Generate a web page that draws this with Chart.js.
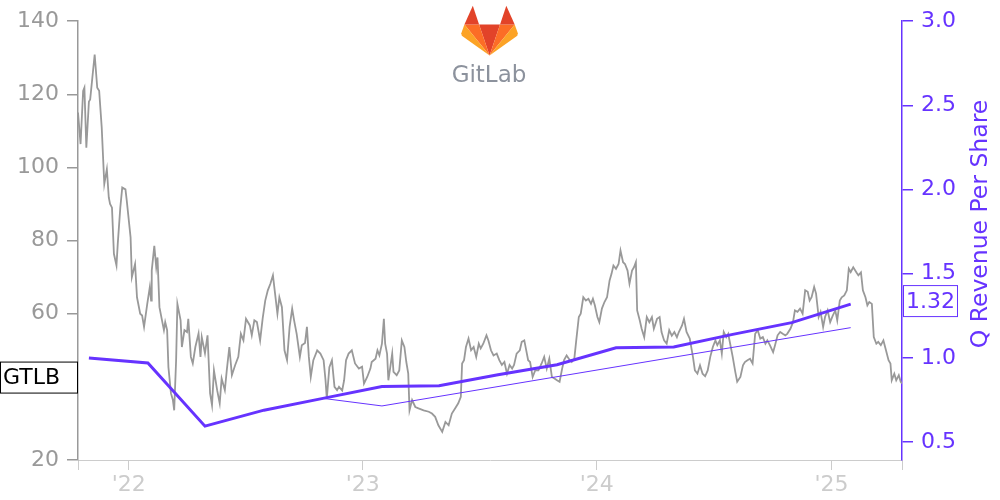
<!DOCTYPE html>
<html>
<head>
<meta charset="utf-8">
<script src="https://cdn.jsdelivr.net/npm/chart.js@4.4.0/dist/chart.umd.min.js"></script>
<style>
  html, body { margin: 0; padding: 0; background: #fff; }
  #chart { display: block; }
</style>
</head>
<body>
<canvas id="chart" width="1000" height="500"></canvas>
<script>
// first trading day; price x values are days counted from here
var startDate = "2021-10-14";
var endDate = "2025-04-21";

var priceDay = [0, 4, 8, 10, 13, 17, 19, 26, 30, 33, 37, 41, 45, 48, 50, 53, 56, 60, 62, 66, 69, 74, 76, 82, 84, 89, 92, 97, 100, 103,
  108, 112, 114, 115, 119, 122, 124, 127, 131, 134, 136, 139, 141, 145, 148, 150, 153, 155, 160, 162, 166, 170, 172, 176, 179, 183, 188, 191, 193, 198,
  202, 206, 209, 212, 217, 221, 224, 229, 232, 236, 240, 245, 250, 254, 258, 262, 268, 271, 275, 279, 284, 288, 292, 296, 300, 304, 308, 311, 314, 318,
  322, 326, 330, 334, 337, 341, 346, 349, 354, 357, 360, 363, 367, 373, 378, 383, 386, 388, 392, 396, 400, 404, 407, 412, 415, 418, 422, 427, 432, 438,
  443, 446, 451, 456, 458, 464, 467, 470, 474, 477, 479, 482, 484, 487, 490, 492, 497, 501, 505, 509, 512, 515, 517, 521, 526, 531, 539, 547, 552, 557,
  562, 568, 573, 578, 583, 588, 593, 597, 599, 602, 605, 609, 613, 617, 621, 625, 628, 632, 637, 640, 644, 648, 653, 657, 661, 665, 669, 673, 677, 680,
  684, 689, 692, 696, 699, 702, 705, 709, 713, 718, 723, 727, 731, 735, 739, 743, 747, 751, 755, 758, 762, 767, 770, 774, 777, 781, 784, 788, 792, 796,
  800, 803, 806, 810, 813, 817, 821, 825, 829, 832, 835, 839, 843, 846, 850, 853, 857, 860, 864, 867, 870, 872, 876, 879, 883, 887, 891, 895, 898, 903,
  907, 910, 914, 918, 922, 926, 930, 934, 937, 942, 945, 949, 954, 959, 962, 966, 970, 974, 978, 982, 986, 990, 994, 997, 1001, 1004, 1007, 1011, 1014, 1018,
  1021, 1025, 1028, 1033, 1037, 1040, 1044, 1048, 1052, 1056, 1060, 1064, 1068, 1072, 1075, 1079, 1084, 1087, 1091, 1095, 1099, 1103, 1106, 1111, 1115, 1118, 1122, 1126, 1130, 1134,
  1138, 1141, 1144, 1148, 1151, 1155, 1158, 1162, 1165, 1169, 1173, 1177, 1181, 1184, 1188, 1191, 1195, 1199, 1202, 1205, 1209, 1214, 1217, 1221, 1224, 1228, 1231, 1234, 1238, 1241,
  1245, 1248, 1252, 1256, 1260, 1264, 1267, 1269, 1273, 1276, 1280, 1283, 1285];
var priceClose = [115, 106.4, 120.9, 121.8, 105.4, 118, 118.6, 130.9, 121.8, 121, 110.9, 95.5, 99.5, 91.8, 90, 89, 76.4, 73.2, 79.1, 89.1, 94.5, 94, 91, 80.9, 70, 73.6, 64.5, 60, 59.5, 56.4,
  62.7, 67.3, 63.6, 71.8, 78.6, 72.7, 75.4, 61.8, 58.2, 55.5, 57.7, 55.5, 45.4, 38.2, 36.4, 33.6, 47.3, 62.7, 58.2, 50.9, 55.5, 55, 58.6, 48.2, 46.4, 50.9, 54.6, 48.2, 53.6, 49.2,
  54.1, 38.2, 35, 44.5, 39.1, 35.5, 42.3, 39.1, 44.5, 50.9, 43.2, 45.9, 48.2, 54.5, 52.7, 58.6, 56.8, 54.1, 58.2, 57.7, 52.7, 58.7, 63.6, 66.4, 68.2, 70.5, 64.5, 60, 64.5, 61.8,
  50, 47.3, 56.4, 61.4, 58.2, 54.5, 48.2, 51.4, 52, 56.4, 48.2, 42.7, 47.3, 50, 49.1, 47.3, 41.8, 36.8, 45.4, 47.3, 40, 39.1, 40, 39, 41.8, 47.3, 49.1, 50, 46.4, 45,
  45.5, 40.9, 42.7, 45, 46.8, 47.7, 50, 48.6, 51.8, 58.6, 51.8, 49, 41.8, 45.4, 49.1, 44.1, 43.2, 44.5, 52.7, 50.9, 46.8, 43.6, 33.6, 36.4, 34.5, 34.1, 33.6, 33.2, 32.7, 31.8,
  29.5, 27.7, 30.4, 29.5, 32.7, 34.1, 35.5, 37.3, 46.4, 47.3, 50.9, 53.2, 50, 50.9, 48.2, 51.8, 50.5, 51.8, 54.1, 52.7, 50, 48.6, 49.1, 47.3, 46, 46.8, 43.6, 46, 45, 46,
  49.1, 50, 52.3, 52.7, 50, 47.3, 46.8, 42.7, 44.5, 44.5, 46.4, 48.2, 45, 47.7, 42.7, 42.3, 41.8, 41.4, 45, 47.3, 48.6, 47.3, 46.8, 47.7, 52.7, 59.1, 60, 64.5, 63.6, 64.1,
  62.7, 64.1, 62.3, 59.1, 57.7, 61.4, 63.2, 64.5, 69.1, 70.9, 73.2, 72.3, 73.6, 77.3, 74.1, 73.6, 71.8, 68.2, 71.8, 72.7, 74.1, 60.9, 58.2, 55.9, 53.6, 59.1, 57.7, 59.1, 55.9, 58.6,
  59.1, 55, 52.7, 51.8, 55.5, 54, 55, 53.6, 55, 56.8, 58.6, 55, 53.2, 48.2, 44.5, 43.6, 45.9, 43.6, 42.9, 44.5, 48.2, 50.9, 52.7, 51.4, 52.7, 49.1, 55, 53.6, 54.5, 50.9,
  48.2, 44.1, 41.4, 42.7, 45.9, 46.8, 47.3, 47.7, 46.4, 54.5, 55.5, 53.2, 53.6, 51.8, 52.7, 51.4, 49.5, 51.4, 54.1, 55, 54.5, 54.1, 54.5, 55.9, 57.7, 60.9, 60.5, 61.4, 60, 66.4,
  66, 63.6, 64.5, 67.3, 65.5, 59.1, 60.5, 56.4, 59.1, 60.9, 57.7, 59.5, 60.9, 58.2, 63.6, 64.5, 65, 66.4, 72.3, 71.4, 72.7, 71.3, 70.5, 71.3, 66.4, 64.5, 62.3, 63.2, 62.7, 53.6,
  51.8, 52.3, 51.4, 52.7, 50, 47.3, 46.4, 41.8, 43.6, 41.8, 43.2, 41.4, 40.9];

// quarterly revenue per share (quarter end dates)
var revDates = ["2021-10-31", "2022-01-31", "2022-04-30", "2022-07-31", "2022-10-31", "2023-01-31", "2023-04-30",
  "2023-07-31", "2023-10-31", "2024-01-31", "2024-04-30", "2024-07-31", "2024-10-31", "2025-01-31"];
var revPerShare = [1.00, 0.97, 0.595, 0.69, 0.76, 0.83, 0.835, 0.90, 0.96, 1.06, 1.065, 1.14, 1.21, 1.32];

// thin trend line
var trendDates = ["2022-10-31", "2023-01-31", "2025-01-31"];
var trendValues = [0.76, 0.715, 1.18];

var yearDates = ["2022-01-01", "2023-01-01", "2024-01-01", "2025-01-01"];
var yearLabels = ["'22", "'23", "'24", "'25"];
var revTicks = [0.5, 1.0, 1.5, 2.0, 2.5, 3.0];

var purple = "#6633ff";
var font = "DejaVu Sans";

function dayOf(d) {
  return Math.round((Date.parse(d) - Date.parse(startDate)) / 86400000);
}

var endDay = dayOf(endDate);
var xTicks = [0].concat(yearDates.map(dayOf), [endDay]);

var priceData = priceDay.map(function (d, i) { return { x: d, y: priceClose[i] }; });
var revData = revDates.map(function (d, i) { return { x: dayOf(d), y: revPerShare[i] }; });
var trendData = trendDates.map(function (d, i) { return { x: dayOf(d), y: trendValues[i] }; });

// logo polygons in a 210x194 box
var logoParts = [
  ["#e24329", [[105, 193], [143.5, 74.5], [66.5, 74.5]]],
  ["#fc6d26", [[105, 193], [66.5, 74.5], [12.6, 74.5]]],
  ["#fca326", [[12.6, 74.5], [1, 108], [3, 117], [105, 193]]],
  ["#e24329", [[12.6, 74.5], [66.5, 74.5], [43.4, 3.3]]],
  ["#fc6d26", [[105, 193], [143.5, 74.5], [197.4, 74.5]]],
  ["#fca326", [[197.4, 74.5], [209, 108], [207, 117], [105, 193]]],
  ["#e24329", [[197.4, 74.5], [143.5, 74.5], [166.6, 3.3]]]
];

var overlay = {
  id: "overlay",
  afterDraw: function (chart) {
    var c = chart.ctx;
    var y = chart.scales.y;
    var y2 = chart.scales.y2;

    // GitLab logo + name
    c.save();
    logoParts.forEach(function (p) {
      c.fillStyle = p[0];
      c.beginPath();
      p[1].forEach(function (pt, i) {
        var px = 461 + pt[0] * 0.272, py = 5 + pt[1] * 0.262;
        if (i === 0) c.moveTo(px, py); else c.lineTo(px, py);
      });
      c.closePath();
      c.fill();
    });
    c.fillStyle = "#8c929d";
    c.font = "23px " + font;
    c.textAlign = "center";
    c.textBaseline = "alphabetic";
    c.fillText("GitLab", 489, 82);
    c.restore();

    // right axis title
    c.save();
    c.translate(981, 224);
    c.rotate(-Math.PI / 2);
    c.fillStyle = purple;
    c.font = "23.5px " + font;
    c.textAlign = "center";
    c.textBaseline = "middle";
    c.fillText("Q Revenue Per Share", 0, 0);
    c.restore();

    // ticker box at last price
    var lastPrice = priceClose[priceClose.length - 1];
    var cy = y.getPixelForValue(lastPrice) - 6;
    c.save();
    c.fillStyle = "#fff";
    c.fillRect(0, cy - 16, 77, 32);
    c.strokeStyle = "#000";
    c.lineWidth = 1;
    c.strokeRect(0.5, cy - 15.5, 77, 31);
    c.fillStyle = "#000";
    c.font = "22px " + font;
    c.textAlign = "left";
    c.textBaseline = "middle";
    c.fillText("GTLB", 3, cy + 1);
    c.restore();

    // last revenue value box
    var lastRev = revPerShare[revPerShare.length - 1];
    var ry = y2.getPixelForValue(lastRev) - 3;
    c.save();
    c.fillStyle = "#fff";
    c.fillRect(903, ry - 16, 55, 32);
    c.strokeStyle = purple;
    c.lineWidth = 1;
    c.strokeRect(903.5, ry - 15.5, 54, 31);
    c.fillStyle = purple;
    c.font = "22px " + font;
    c.textAlign = "center";
    c.textBaseline = "middle";
    c.fillText(lastRev.toFixed(2), 930.5, ry + 1);
    c.restore();
  }
};

var ctx = document.getElementById("chart").getContext("2d");
var myChart = new Chart(ctx, {
  type: "line",
  data: {
    datasets: [
      {
        label: "Q Revenue Per Share",
        data: revData,
        yAxisID: "y2",
        borderColor: purple,
        borderWidth: 3,
        pointRadius: 0,
        tension: 0,
        order: 1,
      },
      {
        label: "Trend",
        data: trendData,
        yAxisID: "y2",
        borderColor: purple,
        borderWidth: 1,
        pointRadius: 0,
        tension: 0,
        order: 2,
      },
      {
        label: "GTLB",
        data: priceData,
        yAxisID: "y",
        borderColor: "#999999",
        borderWidth: 1.8,
        pointRadius: 0,
        tension: 0,
        order: 3,
      },
    ],
  },
  options: {
    responsive: false,
    animation: false,
    layout: { padding: { top: 20, left: 0, right: 0, bottom: 0 } },
    plugins: {
      legend: { display: false },
      tooltip: { enabled: false },
    },
    scales: {
      x: {
        type: "linear",
        min: 0,
        max: endDay,
        afterBuildTicks: function (scale) {
          scale.ticks = xTicks.map(function (v) { return { value: v }; });
        },
        afterFit: function (scale) { scale.height = 40; },
        grid: { drawOnChartArea: false, drawTicks: true, tickLength: 10, color: "#cccccc", lineWidth: 1 },
        border: { color: "#cccccc", width: 1 },
        ticks: {
          color: "#cccccc",
          font: { family: font, size: 22 },
          padding: 2,
          maxRotation: 0,
          autoSkip: false,
          callback: function (value) {
            var i = yearDates.map(dayOf).indexOf(value);
            return i >= 0 ? yearLabels[i] : "";
          },
        },
      },
      y: {
        position: "left",
        min: 20,
        max: 140,
        afterFit: function (scale) { scale.width = 78; },
        grid: { drawOnChartArea: false, drawTicks: true, tickLength: 11, color: "#999999", lineWidth: 1.5 },
        border: { color: "#999999", width: 1.5 },
        ticks: { stepSize: 20, color: "#999999", font: { family: font, size: 22 }, padding: 8 },
      },
      y2: {
        position: "right",
        min: 0.394,
        max: 3.0,
        afterBuildTicks: function (scale) {
          scale.ticks = revTicks.map(function (v) { return { value: v }; });
        },
        afterFit: function (scale) { scale.width = 98; },
        grid: { drawOnChartArea: false, drawTicks: true, tickLength: 11, color: purple, lineWidth: 1.5 },
        border: { color: purple, width: 1.5 },
        ticks: {
          color: purple,
          font: { family: font, size: 22 },
          padding: 8,
          callback: function (v) { return Number(v).toFixed(1); },
        },
      },
    },
  },
  plugins: [overlay],
});
</script>
</body>
</html>
